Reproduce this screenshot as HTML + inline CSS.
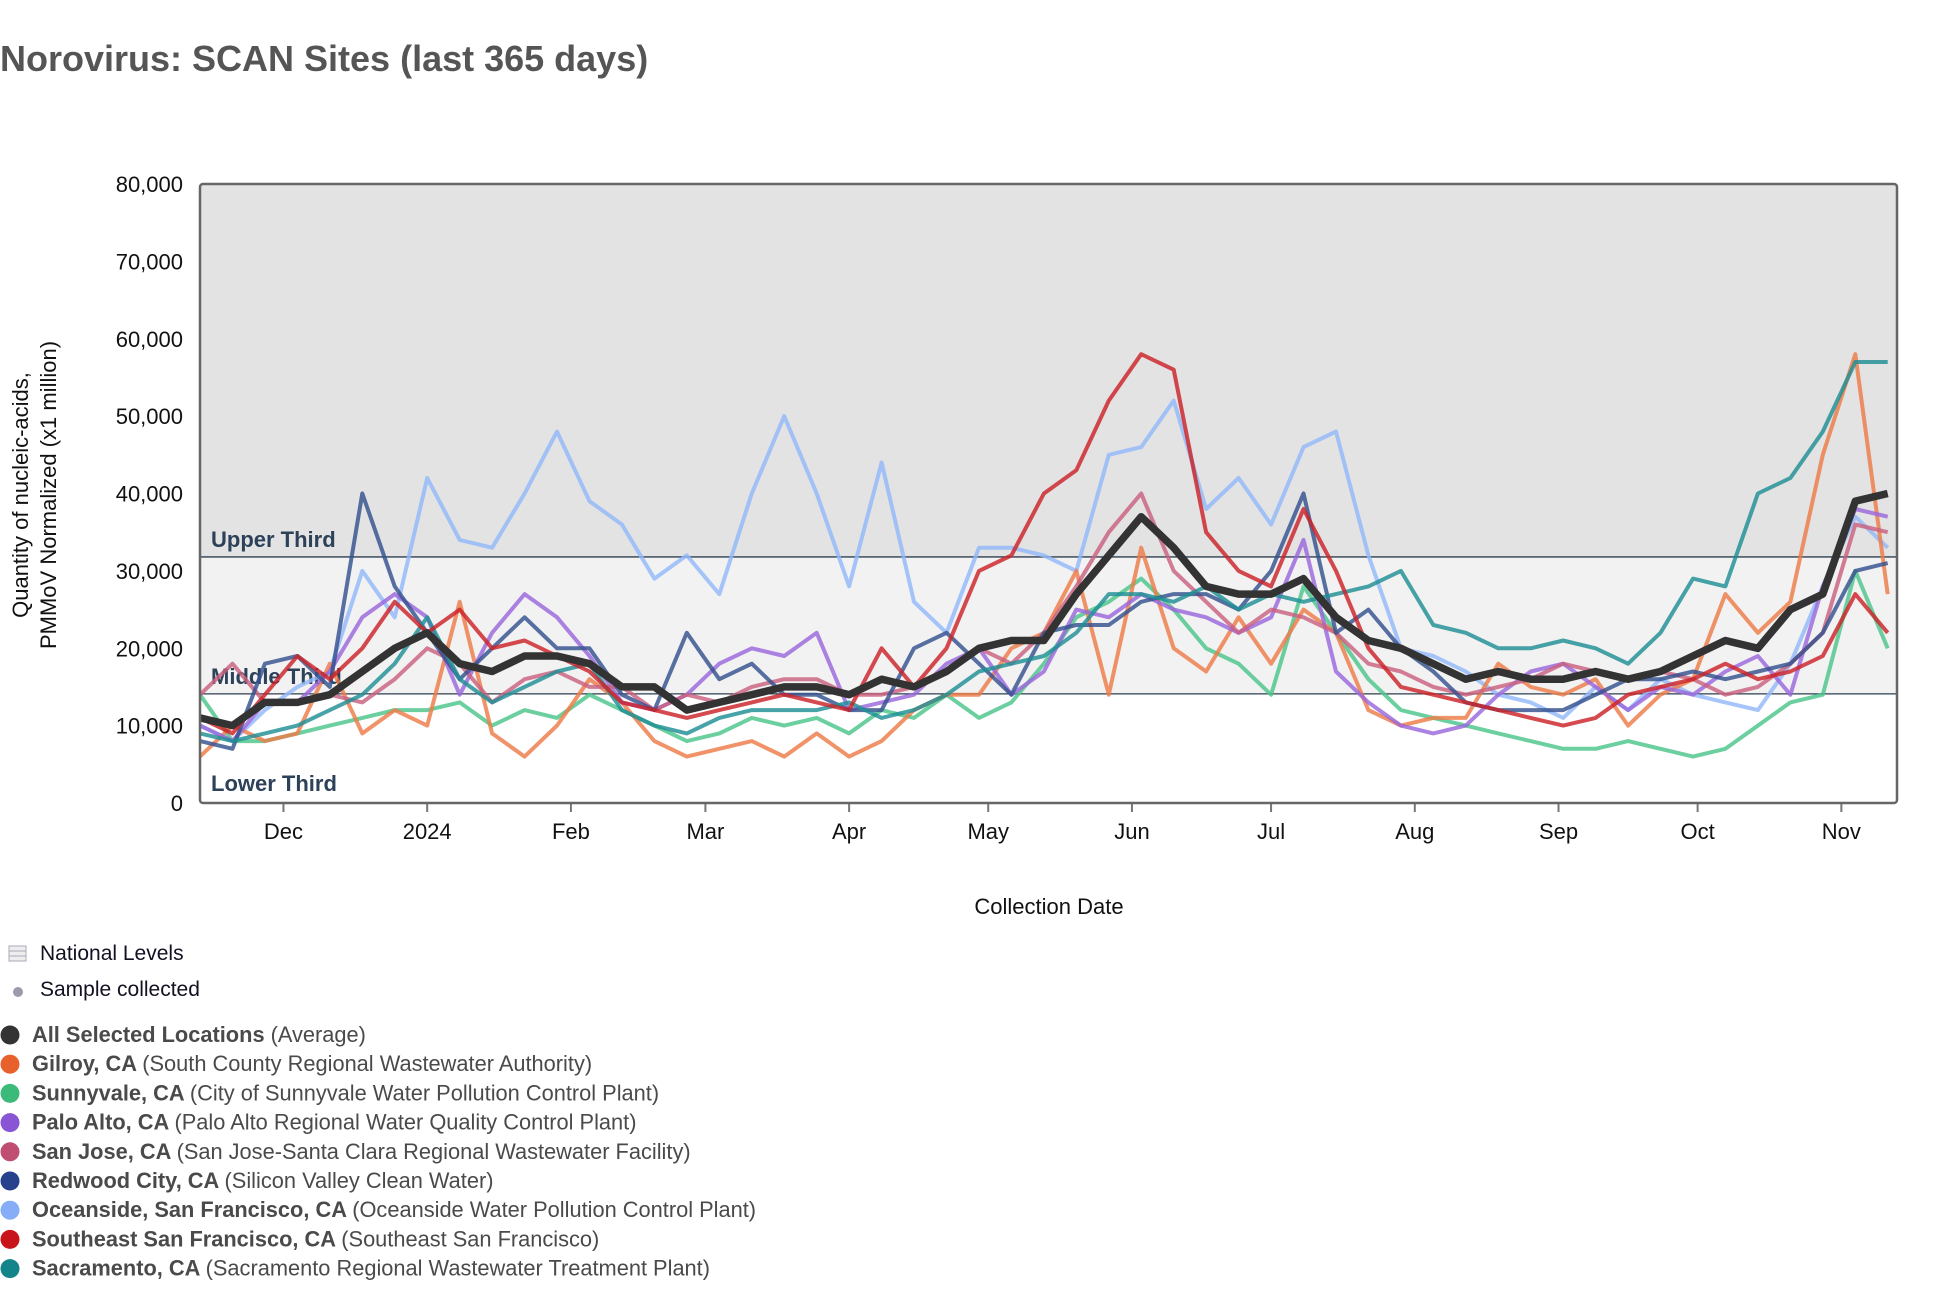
<!DOCTYPE html>
<html><head><meta charset="utf-8"><style>
body{margin:0;background:#fff;width:1938px;height:1298px;overflow:hidden;font-family:"Liberation Sans",Arial,sans-serif}
svg{display:block}
</style></head><body>
<svg id="chart" width="1938" height="1298" viewBox="0 0 1938 1298">
<text x="0" y="71" font-size="36" font-weight="bold" fill="#555">Norovirus: SCAN Sites (last 365 days)</text>
<g id="plot"></g>
<text x="1049" y="914" font-size="22" fill="#111" text-anchor="middle">Collection Date</text>
<text transform="translate(28,495) rotate(-90)" font-size="22" fill="#111" text-anchor="middle"><tspan x="0" dy="0">Quantity of nucleic-acids,</tspan><tspan x="0" dy="28">PMMoV Normalized (x1 million)</tspan></text>
<g id="legend"></g>
</svg>
<script>
const weekStart = new Date(2023,10,13);
const ticksY = [0,10000,20000,30000,40000,50000,60000,70000,80000];
const monthLabels = ["Dec","2024","Feb","Mar","Apr","May","Jun","Jul","Aug","Sep","Oct","Nov"];
const monthDates = [[2023,11,1],[2024,0,1],[2024,1,1],[2024,2,1],[2024,3,1],[2024,4,1],[2024,5,1],[2024,6,1],[2024,7,1],[2024,8,1],[2024,9,1],[2024,10,1]];
const thresholds = [31800,14100];
const avgVals = [11,10,13,13,14,17,20,22,18,17,19,19,18,15,15,12,13,14,15,15,14,16,15,17,20,21,21,27,32,37,33,28,27,27,29,24,21,20,18,16,17,16,16,17,16,17,19,21,20,25,27,39,40];
const gilroyVals = [6,10,8,9,18,9,12,10,26,9,6,10,16,13,8,6,7,8,6,9,6,8,12,14,14,20,22,30,14,33,20,17,24,18,25,22,12,10,11,11,18,15,14,16,10,14,16,27,22,26,45,58,27];
const sunnyvaleVals = [14,8,8,9,10,11,12,12,13,10,12,11,14,12,10,8,9,11,10,11,9,12,11,14,11,13,18,24,26,29,25,20,18,14,28,22,16,12,11,10,9,8,7,7,8,7,6,7,10,13,14,30,20];
const paloAltoVals = [10,8,13,13,17,24,27,24,14,22,27,24,19,13,12,14,18,20,19,22,12,13,14,18,20,14,17,25,24,27,25,24,22,24,34,17,13,10,9,10,14,17,18,15,12,15,14,17,19,14,28,38,37];
const sanJoseVals = [14,18,13,13,14,13,16,20,18,13,16,17,15,15,12,14,13,15,16,16,14,14,15,17,20,18,22,28,35,40,30,26,22,25,24,22,18,17,15,14,15,16,18,17,16,17,16,14,15,18,22,36,35];
const redwoodVals = [8,7,18,19,15,40,28,22,16,20,24,20,20,14,12,22,16,18,14,14,12,12,20,22,18,14,22,23,23,26,27,27,25,30,40,22,25,20,17,13,12,12,12,14,16,16,17,16,17,18,22,30,31];
const oceansideVals = [10,8,12,15,17,30,24,42,34,33,40,48,39,36,29,32,27,40,50,40,28,44,26,22,33,33,32,30,45,46,52,38,42,36,46,48,32,20,19,17,14,13,11,15,12,16,14,13,12,18,28,37,33];
const seSfVals = [11,9,14,19,16,20,26,22,25,20,21,19,17,13,12,11,12,13,14,13,12,20,15,20,30,32,40,43,52,58,56,35,30,28,38,30,20,15,14,13,12,11,10,11,14,15,16,18,16,17,19,27,22];
const sacramentoVals = [9,8,9,10,12,14,18,24,16,13,15,17,18,12,10,9,11,12,12,12,13,11,12,14,17,18,19,22,27,27,26,28,25,27,26,27,28,30,23,22,20,20,21,20,18,22,29,28,40,42,48,57,57];
const seriesNames = ["Gilroy, CA","Sunnyvale, CA","Palo Alto, CA","San Jose, CA","Redwood City, CA","Oceanside, San Francisco, CA","Southeast San Francisco, CA","Sacramento, CA"];
const seriesSubs = ["(South County Regional Wastewater Authority)","(City of Sunnyvale Water Pollution Control Plant)","(Palo Alto Regional Water Quality Control Plant)","(San Jose-Santa Clara Regional Wastewater Facility)","(Silicon Valley Clean Water)","(Oceanside Water Pollution Control Plant)","(Southeast San Francisco)","(Sacramento Regional Wastewater Treatment Plant)"];

const NS="http://www.w3.org/2000/svg";
const L=200,R=1897,T=184,B=803;
const t0=new Date(2023,10,13).getTime(), t1=new Date(2024,10,13).getTime();
function xDate(d){return L+(d.getTime()-t0)/(t1-t0)*(R-L);}
function xWeek(i){return xDate(new Date(weekStart.getTime()+i*7*86400000));}
function y(v){return B-v/80000*(B-T);}
function mk(tag,attrs,parent){const e=document.createElementNS(NS,tag);for(const k in attrs)e.setAttribute(k,attrs[k]);parent.appendChild(e);return e;}
const plot=document.getElementById('plot');
const bgTop=mk('rect',{x:L,y:T,width:R-L,height:y(thresholds[0])-T,fill:'#e3e3e3'},plot);


const bgMid=mk('rect',{x:L,y:y(thresholds[0]),width:R-L,height:y(thresholds[1])-y(thresholds[0]),fill:'#f2f2f2'},plot);


thresholds.forEach((v,i)=>{const l=mk('line',{x1:L,x2:R,y1:y(v),y2:y(v),stroke:'#2d3e50','stroke-width':1.3},plot);

});
const bandLabels=[["Upper Third",y(thresholds[0])-10],["Middle Third",y(thresholds[1])-10],["Lower Third",B-12]];
bandLabels.forEach(b=>{const t=mk('text',{x:211,y:b[1],'font-size':22,'font-weight':'bold',fill:'#2d4159'},plot);t.textContent=b[0];

});
ticksY.forEach(v=>{const t=mk('text',{x:183,y:y(v)+8,'font-size':22,fill:'#111','text-anchor':'end'},plot);t.textContent=v.toLocaleString('en-US');

});
monthDates.forEach((d,i)=>{const x=xDate(new Date(d[0],d[1],d[2]));
const tk=mk('line',{x1:x,x2:x,y1:B,y2:B+9,stroke:'#777','stroke-width':2},plot);


const t=mk('text',{x:x,y:B+36,'font-size':22,fill:'#111','text-anchor':'middle'},plot);t.textContent=monthLabels[i];

});
const colors=['#ee7b48','#4cc48a','#9a66dc','#c9607f','#35508f','#93b8fa','#cc2227','#1f8f95'];
const allSeries=[gilroyVals,sunnyvaleVals,paloAltoVals,sanJoseVals,redwoodVals,oceansideVals,seSfVals,sacramentoVals];
const order=[5,1,0,2,3,4,7,6];
order.forEach(si=>{const vals=allSeries[si];const d=vals.map((v,i)=>(i?'L':'M')+xWeek(i).toFixed(1)+','+y(v*1000).toFixed(1)).join(' ');
const p=mk('path',{d:d,fill:'none',stroke:colors[si],'stroke-width':4,'stroke-opacity':0.82,'stroke-linejoin':'round'},plot);

});
const ad=avgVals.map((v,i)=>(i?'L':'M')+xWeek(i).toFixed(1)+','+y(v*1000).toFixed(1)).join(' ');
const ap=mk('path',{d:ad,fill:'none',stroke:'#333','stroke-width':7.5,'stroke-linejoin':'round'},plot);


const frame=mk('rect',{x:L,y:T,width:R-L,height:B-T,fill:'none',stroke:'#666','stroke-width':2.5,rx:3},plot);



const lg=document.getElementById('legend');
const nl=mk('g',{},lg);


mk('rect',{x:9,y:946,width:17,height:15,fill:'#eee',stroke:'#aab','stroke-width':1},nl);
mk('line',{x1:9,x2:26,y1:951,y2:951,stroke:'#aab'},nl);mk('line',{x1:9,x2:26,y1:956,y2:956,stroke:'#aab'},nl);
const nt=mk('text',{x:40,y:960,'font-size':21,fill:'#112'},nl);nt.textContent='National Levels';
const sc=mk('g',{},lg);


mk('circle',{cx:18,cy:992,r:5,fill:'#9a9cab'},sc);
const st=mk('text',{x:40,y:996,'font-size':21,fill:'#112'},sc);st.textContent='Sample collected';
const names=["All Selected Locations"].concat(seriesNames);
const subs=["(Average)"].concat(seriesSubs);
const dotCols=['#333','#e8612c','#3cba7a','#8a55d4','#c04d72','#28418c','#85adf8','#c8141b','#138489'];
names.forEach((n,i)=>{const yy=1034+i*29.2;
const g=mk('g',{},lg);


mk('circle',{cx:10,cy:yy+1,r:9.5,fill:dotCols[i]},g);
const t=mk('text',{x:32,y:yy+8,'font-size':21.8,fill:'#4a4a4a'},g);
const b=document.createElementNS(NS,'tspan');b.setAttribute('font-weight','bold');b.textContent=n+' ';t.appendChild(b);
const s=document.createElementNS(NS,'tspan');s.textContent=subs[i];t.appendChild(s);});
</script>
</body></html>
